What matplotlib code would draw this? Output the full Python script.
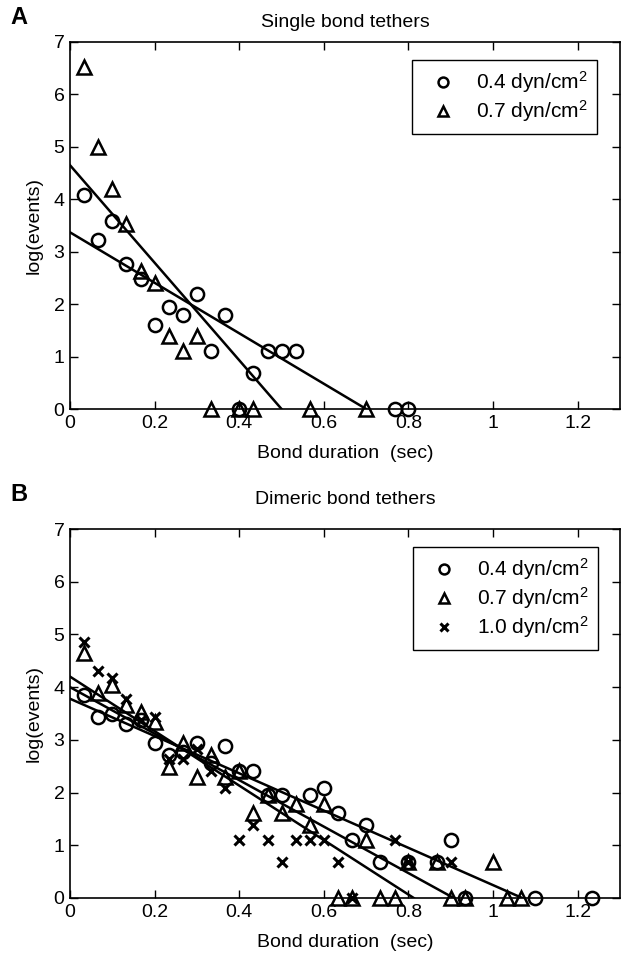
import numpy as np
import matplotlib
matplotlib.use('Agg')
import matplotlib.pyplot as plt
from matplotlib.ticker import FixedLocator, FixedFormatter

plt.rcParams['font.family'] = ['Liberation Sans', 'DejaVu Sans']
plt.rcParams['mathtext.fontset'] = 'custom'
plt.rcParams['mathtext.rm'] = 'Liberation Sans'
plt.rcParams['mathtext.it'] = 'Liberation Sans'

# --- panel A: single bond tethers ---
circ_x_A = [0.033, 0.067, 0.1, 0.133, 0.167, 0.2, 0.233, 0.267, 0.3, 0.333,
            0.367, 0.4, 0.433, 0.467, 0.5, 0.533, 0.767, 0.8]
circ_y_A = [4.09, 3.22, 3.58, 2.77, 2.48, 1.61, 1.95, 1.79, 2.2, 1.1,
            1.79, 0, 0.69, 1.1, 1.1, 1.1, 0, 0]
tri_x_A = [0.033, 0.067, 0.1, 0.133, 0.167, 0.2, 0.233, 0.267, 0.3, 0.333,
           0.4, 0.433, 0.567, 0.7]
tri_y_A = [6.52, 5.0, 4.2, 3.53, 2.64, 2.4, 1.39, 1.1, 1.39, 0,
           0, 0, 0, 0]
# fitted lines: (intercept, x where line hits 0)
fit_A = [(3.37, 0.70), (4.65, 0.50)]

# --- panel B: dimeric bond tethers ---
circ_x_B = [0.033, 0.067, 0.1, 0.133, 0.167, 0.2, 0.233, 0.267, 0.3, 0.333,
            0.367, 0.4, 0.433, 0.467, 0.5, 0.567, 0.6, 0.633, 0.667, 0.7,
            0.733, 0.8, 0.867, 0.9, 0.933, 1.1, 1.233]
circ_y_B = [3.85, 3.43, 3.5, 3.3, 3.37, 2.94, 2.71, 2.77, 2.94, 2.56,
            2.89, 2.4, 2.4, 1.95, 1.95, 1.95, 2.08, 1.61, 1.1, 1.39,
            0.69, 0.69, 0.69, 1.1, 0, 0, 0]
tri_x_B = [0.033, 0.067, 0.1, 0.133, 0.167, 0.2, 0.233, 0.267, 0.3, 0.333,
           0.367, 0.4, 0.433, 0.467, 0.5, 0.533, 0.567, 0.6, 0.633, 0.667,
           0.7, 0.733, 0.767, 0.8, 0.867, 0.9, 0.933, 1.0, 1.033, 1.067]
tri_y_B = [4.64, 3.89, 4.04, 3.66, 3.53, 3.33, 2.48, 2.94, 2.3, 2.71,
           2.3, 2.4, 1.61, 1.95, 1.61, 1.79, 1.39, 1.79, 0, 0,
           1.1, 0, 0, 0.69, 0.69, 0, 0, 0.69, 0, 0]
x_x_B = [0.033, 0.067, 0.1, 0.133, 0.167, 0.2, 0.233, 0.267, 0.3, 0.333,
         0.367, 0.4, 0.433, 0.467, 0.5, 0.533, 0.567, 0.6, 0.633, 0.667,
         0.767, 0.8, 0.9]
x_y_B = [4.86, 4.3, 4.17, 3.78, 3.37, 3.43, 2.64, 2.64, 2.83, 2.4,
         2.08, 1.1, 1.39, 1.1, 0.69, 1.1, 1.1, 1.1, 0.69, 0,
         1.1, 0.69, 0.69]
fit_B = [(3.78, 1.069), (4.0, 0.907), (4.2, 0.8125)]

xticks = [0, 0.2, 0.4, 0.6, 0.8, 1.0, 1.2]
xticklabels = ['0', '0.2', '0.4', '0.6', '0.8', '1', '1.2']
yticks = [0, 1, 2, 3, 4, 5, 6, 7]

FS = 14
W, H = 623, 959
fig = plt.figure(figsize=(W / 100, H / 100), dpi=100)

def px_axes(left, top, right, bottom):
    return fig.add_axes([left / W, 1 - bottom / H, (right - left) / W, (bottom - top) / H])

def style(ax, title, tpad):
    ax.set_xlim(0, 1.3)
    ax.set_ylim(0, 7)
    ax.xaxis.set_major_locator(FixedLocator(xticks))
    ax.xaxis.set_major_formatter(FixedFormatter(xticklabels))
    ax.set_yticks(yticks)
    ax.tick_params(direction='in', top=True, right=True, length=6, width=1,
                   labelsize=FS, pad=4)
    for s in ax.spines.values():
        s.set_linewidth(1.2)
    ax.set_xlabel('Bond duration  (sec)', fontsize=FS, labelpad=10)
    ax.set_ylabel('log(events)', fontsize=FS, labelpad=8)
    ax.set_title(title, fontsize=FS, pad=tpad)

def add_legend(ax, right, top):
    leg = ax.legend(loc='upper right', bbox_to_anchor=(right, top), borderaxespad=0,
                    fancybox=False, edgecolor='black', fontsize=15, handlelength=2.0,
                    handletextpad=0.6, borderpad=0.45, labelspacing=0.15,
                    markerscale=0.75, framealpha=1)
    leg.get_frame().set_linewidth(1.0)
    return leg

mk = dict(linestyle='none', color='black', markerfacecolor='none',
          markeredgewidth=1.8, clip_on=False)

# panel A
axA = px_axes(70, 42, 620, 409)
axA.plot(circ_x_A, circ_y_A, marker='o', markersize=9.5, label='0.4 dyn/cm$^2$', **mk)
axA.plot(tri_x_A, tri_y_A, marker='^', markersize=9.5, label='0.7 dyn/cm$^2$', **mk)
for b, x0 in fit_A:
    axA.plot([0, x0], [b, 0], color='black', linewidth=1.8)
style(axA, 'Single bond tethers', 11)
add_legend(axA, 0.958, 0.951)

# panel B
axB = px_axes(70, 529, 620, 898)
axB.plot(circ_x_B, circ_y_B, marker='o', markersize=9.5, label='0.4 dyn/cm$^2$', **mk)
axB.plot(tri_x_B, tri_y_B, marker='^', markersize=9.5, label='0.7 dyn/cm$^2$', **mk)
axB.plot(x_x_B, x_y_B, marker='x', markersize=7, color='black', linestyle='none',
         markeredgewidth=2.2, label='1.0 dyn/cm$^2$', clip_on=False)
for b, x0 in fit_B:
    axB.plot([0, x0], [b, 0], color='black', linewidth=1.8)
style(axB, 'Dimeric bond tethers', 18)
add_legend(axB, 0.96, 0.951)

fig.text(10 / W, 1 - 18 / H, 'A', fontsize=17, fontweight='bold', va='center', ha='left')
fig.text(10 / W, 1 - 494 / H, 'B', fontsize=17, fontweight='bold', va='center', ha='left')

fig.savefig('out.png', dpi=100)
